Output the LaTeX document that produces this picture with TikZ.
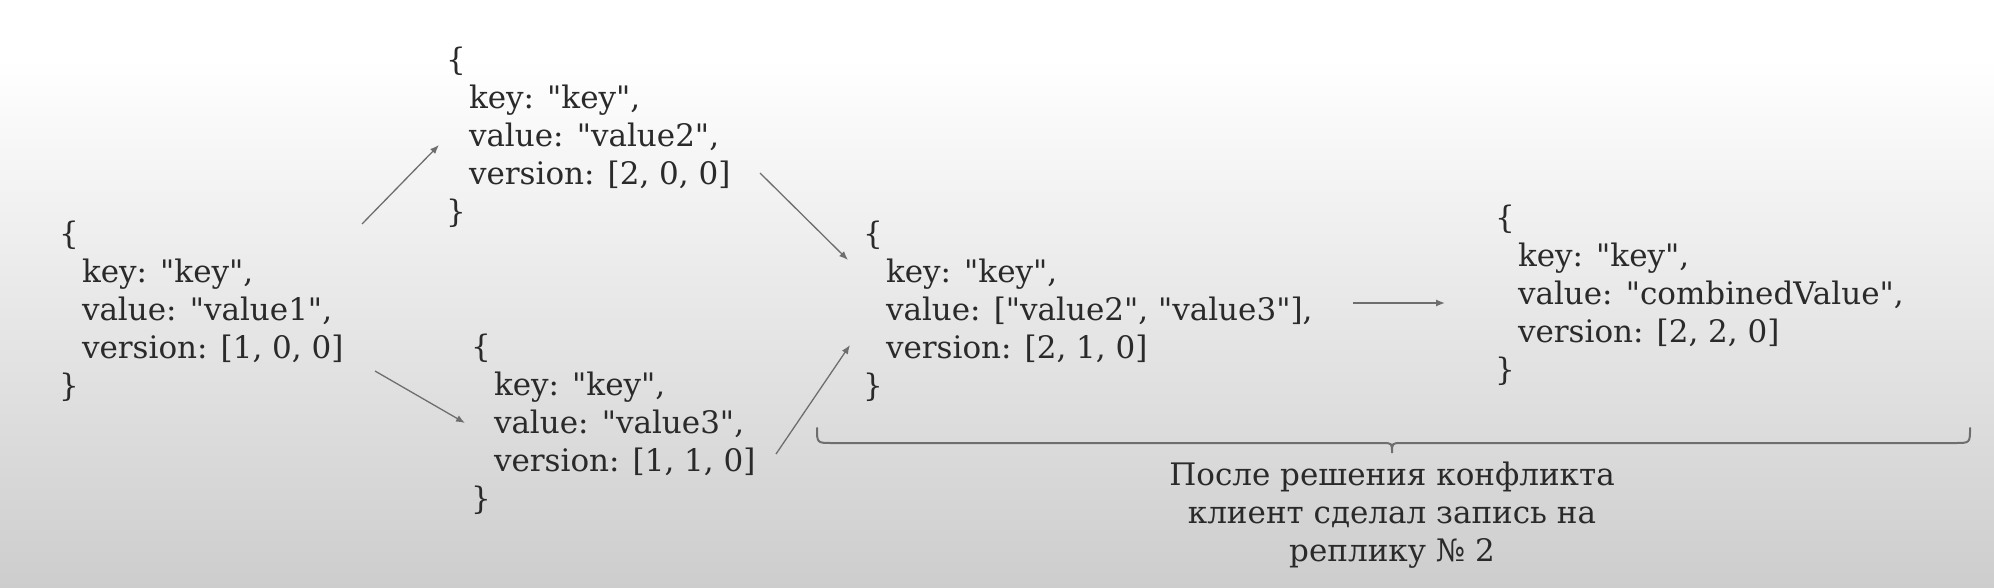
\documentclass[tikz,border=0pt]{standalone}
\usepackage{fontspec}
\setmainfont{DejaVu Serif}
\newfontfamily\codefont{DejaVu Serif}
\usetikzlibrary{arrows.meta}
\definecolor{txt}{HTML}{2A2A2A}
\definecolor{linec}{HTML}{6E6E6E}
\definecolor{bgbot}{HTML}{CDCDCD}
\pgfdeclareverticalshading{bgshade}{100bp}{color(0bp)=(bgbot); color(25bp)=(bgbot); color(70bp)=(white); color(100bp)=(white)}
\newcommand\jsonlines[1]{\vtop{\halign{##\hfil\cr #1\crcr}}}
\newcommand\centerlines[1]{\vtop{\halign{\hfil##\hfil\cr #1\crcr}}}
\newcommand\ind{\hspace*{23pt}}
\tikzset{
  code/.style={inner sep=0pt, outer sep=0pt, anchor=base west, text=txt,
    font=\codefont\fontsize{31}{38}\selectfont},
  note/.style={inner sep=0pt, outer sep=0pt, anchor=base, text=txt,
    font=\codefont\fontsize{31}{38}\selectfont},
  arr/.style={draw=linec, line width=1.3pt, -{Latex[length=9pt,width=7pt]}},
  bracec/.style={draw=linec, line width=2pt, line cap=round},
}
\begin{document}
\begin{tikzpicture}[x=1pt,y=-1pt]
\useasboundingbox (0,0) rectangle (1994,588);
\shade[shading=bgshade] (0,0) rectangle (1994,588);

\node[code] (A) at (59,244) {\jsonlines{\{\cr\ind key: "key",\cr\ind value: "value1",\cr\ind version: [1, 0, 0]\cr\}}};
\node[code] (B) at (446,71) {\jsonlines{\{\cr\ind key: "key",\cr\ind value: "value2",\cr\ind version: [2, 0, 0]\cr\}}};
\node[code] (C) at (471,357) {\jsonlines{\{\cr\ind key: "key",\cr\ind value: "value3",\cr\ind version: [1, 1, 0]\cr\}}};
\node[code] (D) at (863,244) {\jsonlines{\{\cr\ind key: "key",\cr\ind value: ["value2", "value3"],\cr\ind version: [2, 1, 0]\cr\}}};
\node[code] (E) at (1495,229) {\jsonlines{\{\cr\ind key: "key",\cr\ind value: "combinedValue",\cr\ind version: [2, 2, 0]\cr\}}};

\draw[arr] ([shift={(303,-20)}]A.base west) -- ([shift={(-7,74)}]B.base west);
\draw[arr] ([shift={(316,127)}]A.base west) -- ([shift={(-6,66)}]C.base west);
\draw[arr] ([shift={(314,102)}]B.base west) -- ([shift={(-15,16)}]D.base west);
\draw[arr] ([shift={(305,97)}]C.base west) -- ([shift={(-13,101)}]D.base west);
\draw[arr] ([shift={(490,59)}]D.base west) -- ([shift={(-50,74)}]E.base west);

\draw[bracec] (817,428) .. controls (817,443) .. (832,443) -- (1382,443)
  .. controls (1392,443) .. (1392,453) .. controls (1392,443) .. (1402,443)
  -- (1955,443) .. controls (1970,443) .. (1970,428);

\node[note] (L) at (1392,485) {\centerlines{После решения конфликта\cr клиент сделал запись на\cr реплику № 2}};
\end{tikzpicture}
\end{document}
